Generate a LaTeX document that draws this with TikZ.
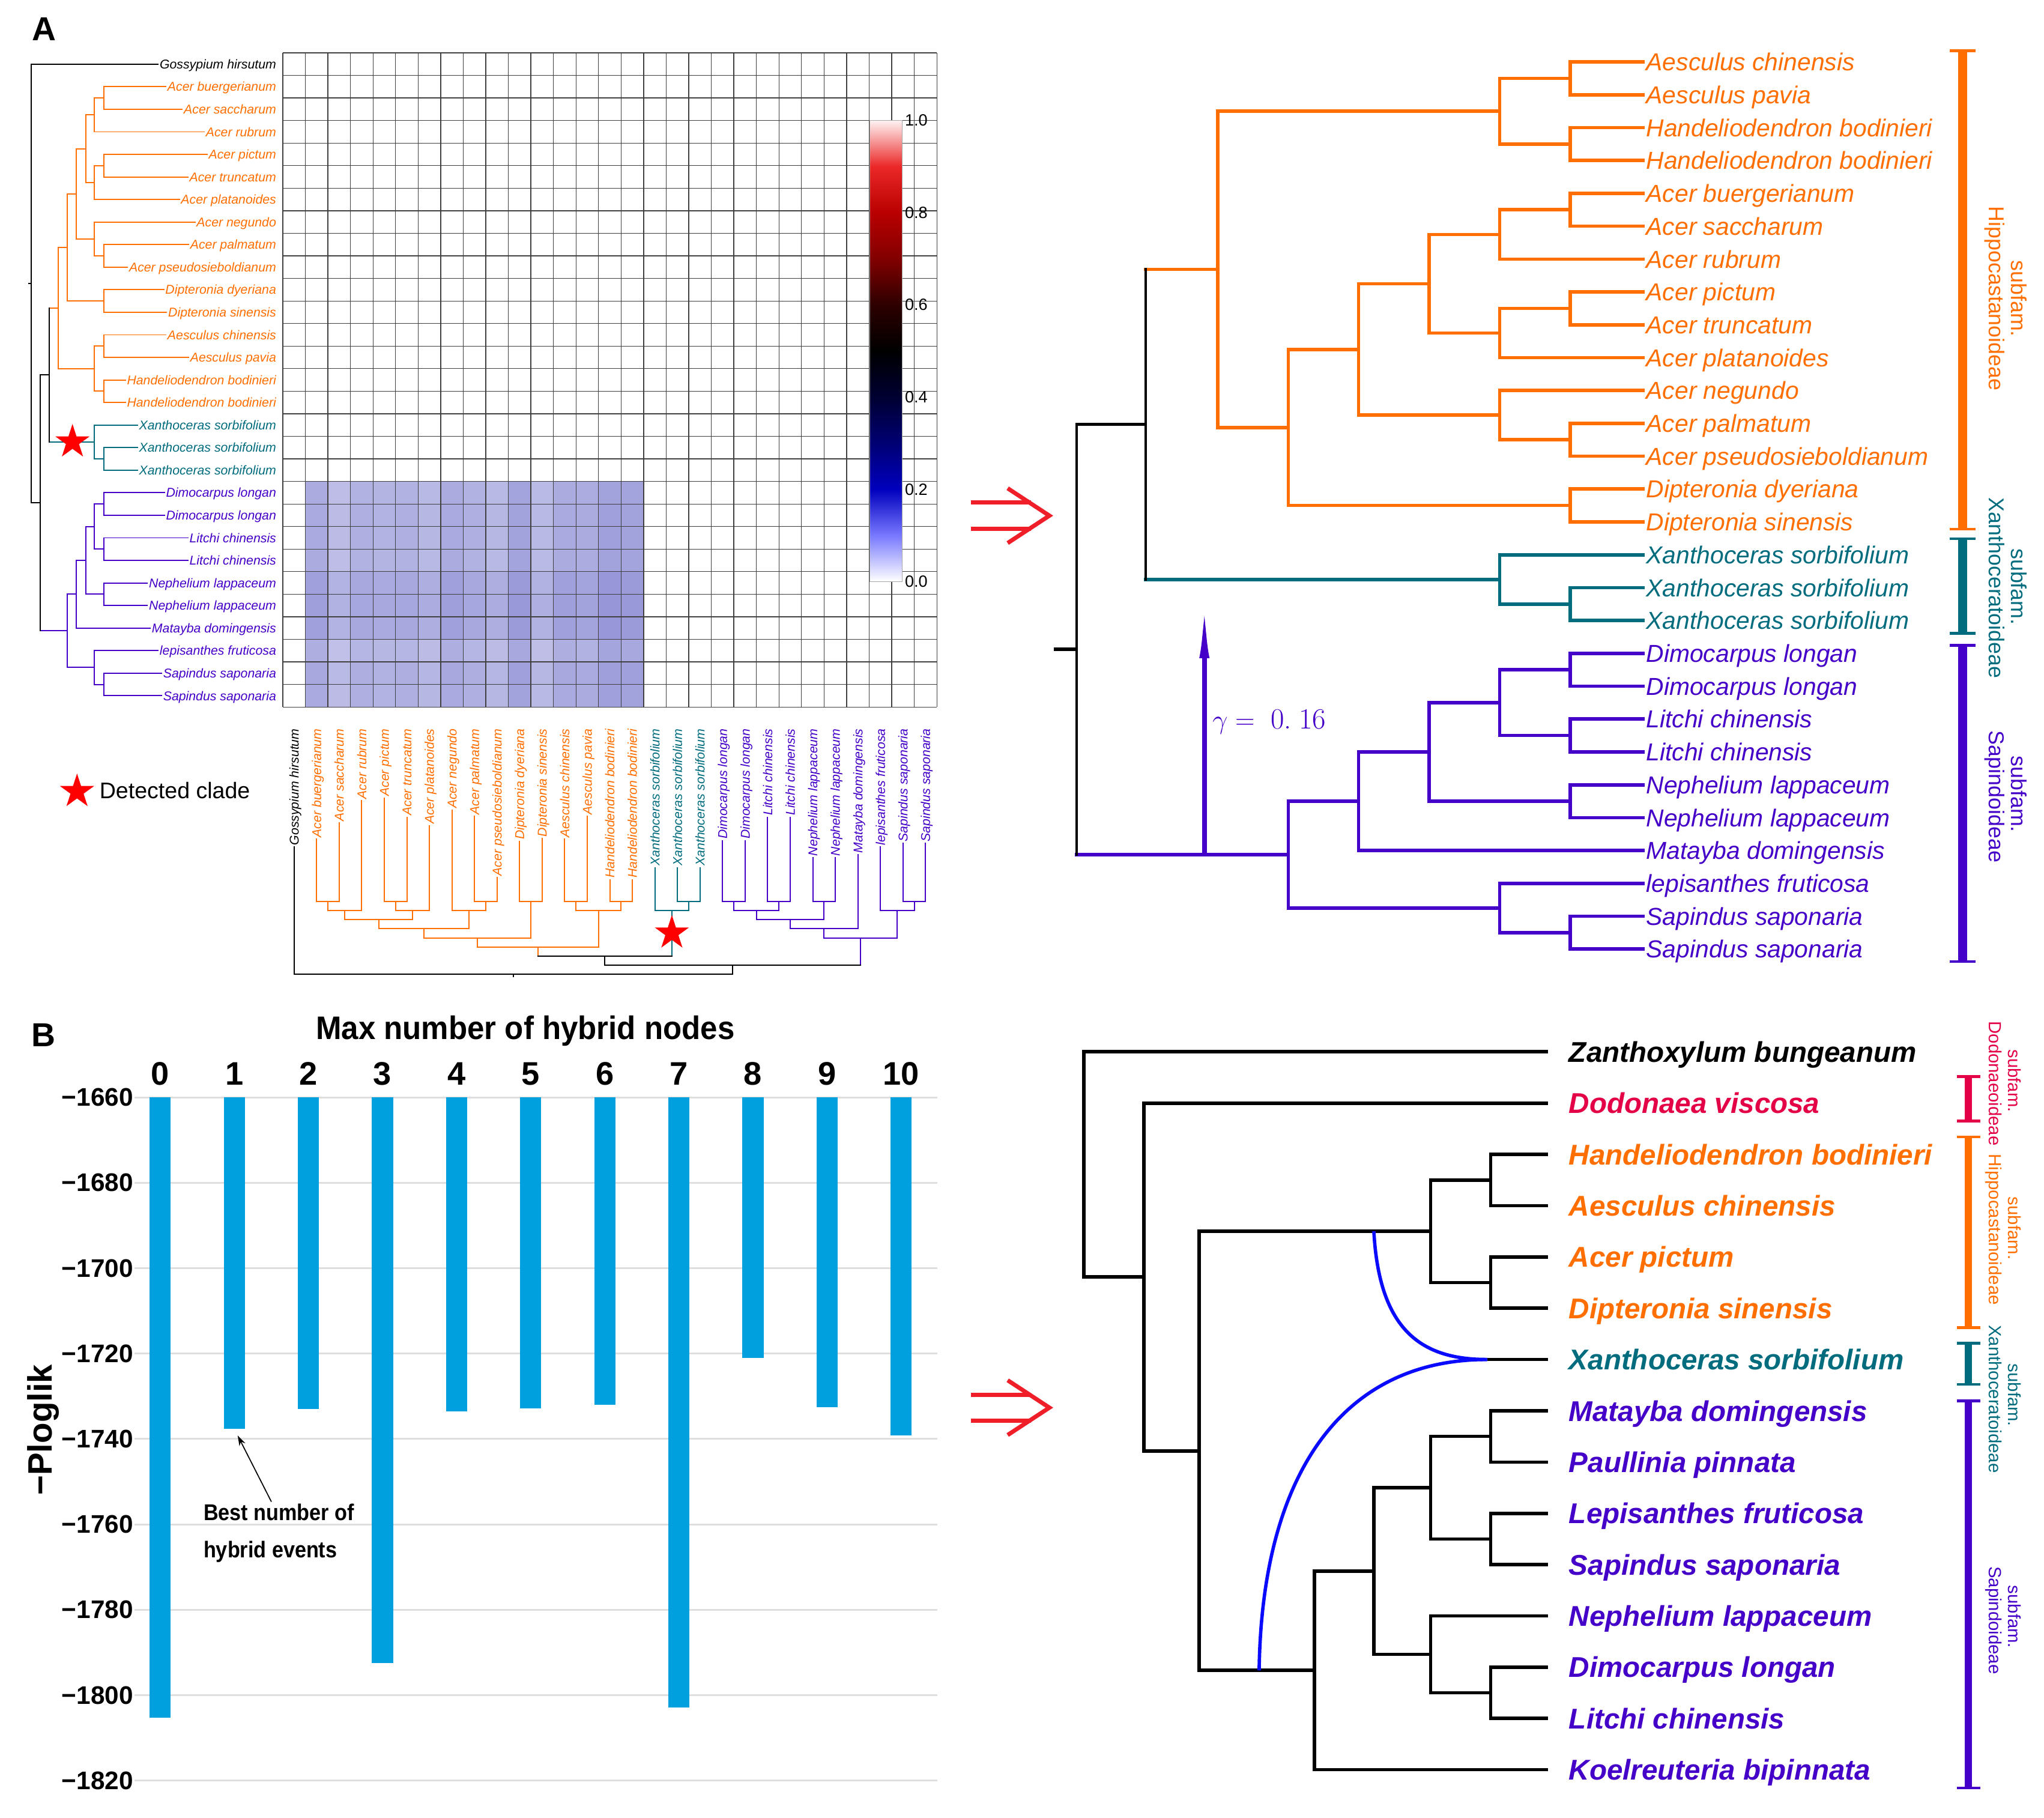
\documentclass[tikz,border=0pt]{standalone}
\usepackage{fontspec}
\usepackage{graphicx}
\newfontfamily\arial{Liberation Sans}
\usetikzlibrary{shapes.geometric,arrows.meta}
\definecolor{cor}{RGB}{255,110,0}
\definecolor{cte}{RGB}{0,108,125}
\definecolor{cpu}{RGB}{68,0,200}
\definecolor{ccr}{RGB}{228,0,70}
\definecolor{cbarblue}{RGB}{0,160,222}
\definecolor{chyb}{RGB}{10,10,255}
\definecolor{carr}{RGB}{240,30,40}
\definecolor{hmc}{RGB}{105,105,200}
\definecolor{cb0}{RGB}{255,255,255}
\definecolor{cb1}{RGB}{120,120,255}
\definecolor{cb2}{RGB}{0,0,190}
\definecolor{cb3}{RGB}{0,0,115}
\definecolor{cb4}{RGB}{0,0,50}
\definecolor{cb5}{RGB}{0,0,0}
\definecolor{cb6}{RGB}{45,0,0}
\definecolor{cb7}{RGB}{130,0,0}
\definecolor{cb8}{RGB}{185,0,0}
\definecolor{cb9}{RGB}{235,40,40}
\definecolor{cb10}{RGB}{255,242,242}
\newcommand\fsz[1]{\fontsize{#1}{#1}\selectfont}
\newcommand\rowA[1]{49.2+17.3*(#1)}
\newcommand\rowR[1]{47.5+25.2*(#1)}
\newcommand\rowB[1]{806.7+39.33*(#1)}
\newcommand\Lbr[6]{\draw[#1] (#4,{\rowA{#3}}) -- (#2,{\rowA{#3}}) -- (#2,{\rowA{#5}}) -- (#6,{\rowA{#5}});}
\newcommand\Rbr[6]{\draw[#1] (#4,{\rowR{#3}}) -- (#2,{\rowR{#3}}) -- (#2,{\rowR{#5}}) -- (#6,{\rowR{#5}});}
\newcommand\Bbr[5]{\draw (#3,{\rowB{#2}}) -- (#1,{\rowB{#2}}) -- (#1,{\rowB{#4}}) -- (#5,{\rowB{#4}});}
\newcommand\cladebar[6]{%
  \draw[#1, line width=#5] (#2,#3) -- (#2,#4);
  \draw[#1, line width=2pt] ({#2-#6},#3) -- ({#2+#6},#3);
  \draw[#1, line width=2pt] ({#2-#6},#4) -- ({#2+#6},#4);}
\newcommand\dblarrow[1]{%
  \draw[redarr] (745,{#1-10}) -- (791,{#1-10});
  \draw[redarr] (745,{#1+10}) -- (791,{#1+10});
  \draw[redarr, line join=miter] (773,{#1-21}) -- (805,#1) -- (773,{#1+21});}
\newcommand\LTree[1]{%
\begin{scope}[line width=0.9pt, line cap=rect]
\Lbr{cor}{79.5}{1}{79.5}{2}{79.5}
\Lbr{cor}{72.5}{1.5}{79.5}{3}{72.5}
\Lbr{cor}{79.5}{4}{79.5}{5}{79.5}
\Lbr{cor}{72.5}{4.5}{79.5}{6}{72.5}
\Lbr{cor}{65.7}{2.25}{72.5}{5.25}{72.5}
\Lbr{cor}{79.5}{8}{79.5}{9}{79.5}
\Lbr{cor}{72.5}{7}{72.5}{8.5}{79.5}
\Lbr{cor}{58.7}{3.75}{65.7}{7.75}{72.5}
\Lbr{cor}{79.5}{10}{79.5}{11}{79.5}
\Lbr{cor}{51.4}{5.75}{58.7}{10.5}{79.5}
\Lbr{cor}{79.5}{12}{79.5}{13}{79.5}
\Lbr{cor}{79.5}{14}{79.5}{15}{79.5}
\Lbr{cor}{72.5}{12.5}{79.5}{14.5}{79.5}
\Lbr{cor}{44.5}{8.125}{51.4}{13.5}{72.5}
\Lbr{cte}{79.5}{17}{79.5}{18}{79.5}
\Lbr{cte}{72.5}{16}{72.5}{17.5}{79.5}
\draw[cor] (37.6,{\rowA{10.8125}}) -- (44.5,{\rowA{10.8125}});
\draw[cte] (37.6,{\rowA{16.75}}) -- (72.5,{\rowA{16.75}});
\draw (37.6,{\rowA{10.8125}}) -- (37.6,{\rowA{16.75}});
\Lbr{cpu}{79.5}{19}{79.5}{20}{79.5}
\Lbr{cpu}{79.5}{21}{79.5}{22}{79.5}
\Lbr{cpu}{72.5}{19.5}{79.5}{21.5}{79.5}
\Lbr{cpu}{79.5}{23}{79.5}{24}{79.5}
\Lbr{cpu}{65.7}{20.5}{72.5}{23.5}{79.5}
\Lbr{cpu}{58.7}{22}{65.7}{25}{58.7}
\Lbr{cpu}{79.5}{27}{79.5}{28}{79.5}
\Lbr{cpu}{72.5}{26}{72.5}{27.5}{79.5}
\Lbr{cpu}{51.4}{23.5}{58.7}{26.75}{72.5}
\draw[cpu] (30.7,{\rowA{25.125}}) -- (51.4,{\rowA{25.125}});
\draw (30.7,{\rowA{13.78125}}) -- (37.6,{\rowA{13.78125}});
\draw (30.7,{\rowA{13.78125}}) -- (30.7,{\rowA{25.125}});
\draw (23.8,{\rowA{0}}) -- (23.8,{\rowA{19.453}}) -- (30.7,{\rowA{19.453}});
\draw (22.0,{\rowA{9.727}}) -- (23.8,{\rowA{9.727}});
\foreach \nm/\cc/\px [count=\k from 0] in {Gossypium hirsutum/black/23.8, Acer buergerianum/cor/79.5, Acer saccharum/cor/79.5, Acer rubrum/cor/72.5, Acer pictum/cor/79.5, Acer truncatum/cor/79.5, Acer platanoides/cor/72.5, Acer negundo/cor/72.5, Acer palmatum/cor/79.5, Acer pseudosieboldianum/cor/79.5, Dipteronia dyeriana/cor/79.5, Dipteronia sinensis/cor/79.5, Aesculus chinensis/cor/79.5, Aesculus pavia/cor/79.5, Handeliodendron bodinieri/cor/79.5, Handeliodendron bodinieri/cor/79.5, Xanthoceras sorbifolium/cte/72.5, Xanthoceras sorbifolium/cte/79.5, Xanthoceras sorbifolium/cte/79.5, Dimocarpus longan/cpu/79.5, Dimocarpus longan/cpu/79.5, Litchi chinensis/cpu/79.5, Litchi chinensis/cpu/79.5, Nephelium lappaceum/cpu/79.5, Nephelium lappaceum/cpu/79.5, Matayba domingensis/cpu/58.7, lepisanthes fruticosa/cpu/72.5, Sapindus saponaria/cpu/79.5, Sapindus saponaria/cpu/79.5}{
  \node[tlab, text=\cc, anchor=east] (#1l\k) at (212.7,{\rowA{\k}}) {\nm};
  \draw[\cc, line cap=butt] (\px,{\rowA{\k}}) -- (#1l\k.west);
}
\end{scope}}
\begin{document}
\begin{tikzpicture}[x=1pt,y=-1pt,
  tlab/.style={font=\arial\itshape\fsz{9.8}, inner sep=0.4pt, text height=7pt, text depth=0pt},
  ralab/.style={font=\arial\itshape\fsz{18.8}, inner sep=0pt, text height=13.5pt, text depth=0pt, anchor=west},
  rblab/.style={font=\arial\bfseries\itshape\fsz{21.9}, inner sep=0pt, text height=15.7pt, text depth=0pt, anchor=west},
  sfA/.style={font=\arial\fsz{16.5}, rotate=-90, inner sep=0pt, anchor=base},
  sfB/.style={font=\arial\fsz{13.5}, rotate=-90, inner sep=0pt, anchor=base},
  gline/.style={draw=black!13, line width=1.4pt},
  hgrid/.style={draw=black!75, line width=0.6pt},
  ylab/.style={font=\arial\bfseries\fsz{19.5}, inner sep=0pt, anchor=east},
  collab/.style={font=\arial\bfseries\fsz{25}, inner sep=0pt, anchor=base},
  panellab/.style={font=\arial\bfseries\fsz{25.5}, inner sep=0pt, anchor=base west},
  redstar/.style={star, star points=5, star point ratio=2.618, fill=red, draw=none, inner sep=0pt, minimum size=27.6pt},
  redarr/.style={draw=carr, line width=3.2pt},
]
\useasboundingbox (0,0) rectangle (1568,1394);
\fill[white] (0,0) rectangle (1568,1394);

% ---------------- Panel A: heat map ----------------
\foreach \rr [count=\ii from 0] in {0.3,0.35,0.35,0.3,0.6,0.65,0.6,0.2,0.4,0.35} {
  \foreach \cc [count=\j from 1] in {0.6,0.2,0.45,0.4,0.45,0.3,0.6,0.45,0.3,0.75,0.25,0.6,0.55,0.8,0.75} {
    \pgfmathtruncatemacro\pp{32+30*\cc+22*\rr}
    \fill[hmc!\pp!white] ({216.95+17.3*\j},{40.55+17.3*(19+\ii)}) rectangle +(17.3,17.3);
  }
}
\foreach \g in {0,...,29} {
  \draw[hgrid] ({216.95+17.3*\g},40.55) -- ++(0,501.7);
  \draw[hgrid] (216.95,{40.55+17.3*\g}) -- ++(501.7,0);
}
% colour bar
\foreach \i [evaluate=\i as \j using int(\i+1)] in {0,...,9} {
  \shade[bottom color=cb\i, top color=cb\j] (667.3,{446-35.36*\i}) rectangle (692.3,{446-35.36*\j});
}
\draw[black!35, line width=0.5pt] (667.3,92.4) rectangle (692.3,446);
\foreach \v/\t in {0/0.0,2/0.2,4/0.4,6/0.6,8/0.8,10/1.0} {
  \node[font=\arial\fsz{12.5}, inner sep=0pt, anchor=west] (cbl\v) at (694,{446-35.36*\v}) {\t};
}

% left and bottom trees
\LTree{L}
\begin{scope}[cm={0,1,-1,0,(176.4pt,-770.8pt)}, transform shape]
\LTree{B}
\end{scope}
\node[redstar] (starL) at (55.6,{\rowA{16.75}}) {};
\node[redstar] (starB) at (515.4,715.6) {};

\node[panellab] (labA) at (24.6,31) {A};
\node[redstar] (dstar) at (59.1,607.1) {};
\node[font=\arial\fsz{17.3}, inner sep=0pt, anchor=base west] (dtext) at (76.2,612.6) {Detected clade};

% ---------------- Panel A: right tree ----------------
\dblarrow{395.5}
\begin{scope}[line width=2.6pt, line cap=rect]
\Rbr{cor}{1204.4}{0}{1204.4}{1}{1204.4}
\Rbr{cor}{1204.4}{2}{1204.4}{3}{1204.4}
\Rbr{cor}{1150.4}{0.5}{1204.4}{2.5}{1204.4}
\Rbr{cor}{1204.4}{4}{1204.4}{5}{1204.4}
\Rbr{cor}{1150.4}{4.5}{1204.4}{6}{1150.4}
\Rbr{cor}{1204.4}{7}{1204.4}{8}{1204.4}
\Rbr{cor}{1150.4}{7.5}{1204.4}{9}{1150.4}
\Rbr{cor}{1096.3}{5.25}{1150.4}{8.25}{1150.4}
\Rbr{cor}{1204.4}{11}{1204.4}{12}{1204.4}
\Rbr{cor}{1150.4}{10}{1150.4}{11.5}{1204.4}
\Rbr{cor}{1042.2}{6.75}{1096.3}{10.75}{1150.4}
\Rbr{cor}{1204.4}{13}{1204.4}{14}{1204.4}
\Rbr{cor}{988.2}{8.75}{1042.2}{13.5}{1204.4}
\Rbr{cor}{934.1}{1.5}{1150.4}{11.125}{988.2}
\Rbr{cte}{1204.4}{16}{1204.4}{17}{1204.4}
\Rbr{cte}{1150.4}{15}{1150.4}{16.5}{1204.4}
\draw[cor] (879,{\rowR{6.3125}}) -- (934.1,{\rowR{6.3125}});
\draw[cte] (879,{\rowR{15.75}}) -- (1150.4,{\rowR{15.75}});
\Rbr{cpu}{1204.4}{18}{1204.4}{19}{1204.4}
\Rbr{cpu}{1204.4}{20}{1204.4}{21}{1204.4}
\Rbr{cpu}{1150.4}{18.5}{1204.4}{20.5}{1204.4}
\Rbr{cpu}{1204.4}{22}{1204.4}{23}{1204.4}
\Rbr{cpu}{1096.3}{19.5}{1150.4}{22.5}{1204.4}
\Rbr{cpu}{1042.2}{21}{1096.3}{24}{1042.2}
\Rbr{cpu}{1204.4}{26}{1204.4}{27}{1204.4}
\Rbr{cpu}{1150.4}{25}{1150.4}{26.5}{1204.4}
\Rbr{cpu}{988.2}{22.5}{1042.2}{25.75}{1150.4}
\draw[cpu] (826,{\rowR{24.125}}) -- (988.2,{\rowR{24.125}});
\draw[line width=2pt] (879,{\rowR{6.3125}}) -- (879,{\rowR{15.75}});
\draw[line width=2pt] (879,{\rowR{11.03125}}) -- (826,{\rowR{11.03125}}) -- (826,{\rowR{24.125}});
\draw[line width=3pt, line cap=butt] (808.5,498) -- (826,498);
\foreach \nm/\cc/\px [count=\k from 0] in {Aesculus chinensis/cor/1204.4, Aesculus pavia/cor/1204.4, Handeliodendron bodinieri/cor/1204.4, Handeliodendron bodinieri/cor/1204.4, Acer buergerianum/cor/1204.4, Acer saccharum/cor/1204.4, Acer rubrum/cor/1150.4, Acer pictum/cor/1204.4, Acer truncatum/cor/1204.4, Acer platanoides/cor/1150.4, Acer negundo/cor/1150.4, Acer palmatum/cor/1204.4, Acer pseudosieboldianum/cor/1204.4, Dipteronia dyeriana/cor/1204.4, Dipteronia sinensis/cor/1204.4, Xanthoceras sorbifolium/cte/1150.4, Xanthoceras sorbifolium/cte/1204.4, Xanthoceras sorbifolium/cte/1204.4, Dimocarpus longan/cpu/1204.4, Dimocarpus longan/cpu/1204.4, Litchi chinensis/cpu/1204.4, Litchi chinensis/cpu/1204.4, Nephelium lappaceum/cpu/1204.4, Nephelium lappaceum/cpu/1204.4, Matayba domingensis/cpu/1042.2, lepisanthes fruticosa/cpu/1150.4, Sapindus saponaria/cpu/1204.4, Sapindus saponaria/cpu/1204.4}{
  \node[ralab, text=\cc] (ra\k) at (1261.6,{\rowR{\k}}) {\nm};
  \draw[\cc, line cap=butt] (\px,{\rowR{\k}}) -- (ra\k.west);
}
\end{scope}
\coordinate (hybA0) at (923.9,{\rowR{24.125}});
\coordinate (hybA1) at (923.9,448.8);
\draw[cpu, line width=3.8pt, -{Latex[length=56pt,width=7.5pt]}] (hybA0) -- (hybA1);
\node[anchor=base west, text=cpu, inner sep=0pt, font=\fsz{22.5}] (gam) at (930,558.9) {$\gamma =$\hspace{0.55em}0.\hspace{0.25em}16};
\cladebar{cor}{1505.5}{39}{405.8}{7pt}{10}
\cladebar{cte}{1505.5}{413.1}{485.7}{7pt}{10}
\cladebar{cpu}{1505.5}{495}{737.5}{7pt}{10}
\node[sfA, text=cor] (sfA1) at (1543,229) {subfam.};
\node[sfA, text=cor] (sfA2) at (1525.9,229) {Hippocastanoideae};
\node[sfA, text=cte] (sfA3) at (1543,450) {subfam.};
\node[sfA, text=cte] (sfA4) at (1525.9,451) {Xanthoceratoideae};
\node[sfA, text=cpu] (sfA5) at (1543,609) {subfam.};
\node[sfA, text=cpu] (sfA6) at (1525.9,611) {Sapindoideae};

% ---------------- Panel B: bar chart ----------------
\node[panellab] (labB) at (24.2,802.7) {B};
\node[font=\arial\bfseries\fsz{25}, inner sep=0pt, anchor=base] (ctitle) at (403,797) {\scalebox{0.94}[1]{Max number of hybrid nodes}};
\foreach \lab [count=\k from 0] in {1660,1680,1700,1720,1740,1760,1780,1800,1820} {
  \draw[gline] (103.4,{841.6+65.51*\k}) -- (719,{841.6+65.51*\k});
  \node[ylab] (yl\k) at (102.4,{841.6+65.51*\k}) {−\lab};
}
\foreach \d [count=\k from 0] in {145.3,77.6,73,132.4,73.5,72.8,72,142.8,61,72.5,79.2} {
  \fill[cbarblue] ({122.9+56.84*\k-8.1},841.6) rectangle ({122.9+56.84*\k+8.1},{841.6+3.2756*\d});
  \node[collab] (xl\k) at ({122.9+56.84*\k},832) {\k};
}
\node[font=\arial\bfseries\fsz{26}, inner sep=0pt, anchor=base, rotate=90] (ytitle) at (40,1096.6) {−Ploglik};
\node[font=\arial\bfseries\fsz{17.5}, inner sep=0pt, anchor=base west] (ann1) at (156,1165.9) {\scalebox{0.9}[1]{Best number of}};
\node[font=\arial\bfseries\fsz{17.5}, inner sep=0pt, anchor=base west] (ann2) at (156,1194.8) {\scalebox{0.9}[1]{hybrid events}};
\coordinate (astart) at (208.2,1151.8);
\coordinate (aend) at (182.3,1100.9);
\draw[line width=0.8pt, -{Stealth[length=8pt,width=5pt]}] (astart) -- (aend);

% ---------------- Panel B: network ----------------
\dblarrow{1079.6}
\begin{scope}[line width=2.6pt, line cap=rect]
\Bbr{1143.5}{2}{1143.5}{3}{1143.5}
\Bbr{1143.5}{4}{1143.5}{5}{1143.5}
\Bbr{1097.4}{2.5}{1143.5}{4.5}{1143.5}
\Bbr{1143.5}{7}{1143.5}{8}{1143.5}
\Bbr{1143.5}{9}{1143.5}{10}{1143.5}
\Bbr{1097.4}{7.5}{1143.5}{9.5}{1143.5}
\Bbr{1143.5}{12}{1143.5}{13}{1143.5}
\Bbr{1097.4}{11}{1097.4}{12.5}{1143.5}
\Bbr{1053.9}{8.5}{1097.4}{11.75}{1097.4}
\Bbr{1008.3}{10.125}{1053.9}{14}{1008.3}
\Bbr{919.8}{3.5}{1097.4}{12.0625}{1008.3}
\Bbr{877.4}{1}{877.4}{7.78125}{919.8}
\Bbr{831.3}{0}{831.3}{4.390625}{877.4}
\foreach \nm/\cc/\px [count=\k from 0] in {Zanthoxylum bungeanum/black/831.3, Dodonaea viscosa/ccr/877.4, Handeliodendron bodinieri/cor/1143.5, Aesculus chinensis/cor/1143.5, Acer pictum/cor/1143.5, Dipteronia sinensis/cor/1143.5, Xanthoceras sorbifolium/cte/1140.8, Matayba domingensis/cpu/1143.5, Paullinia pinnata/cpu/1143.5, Lepisanthes fruticosa/cpu/1143.5, Sapindus saponaria/cpu/1143.5, Nephelium lappaceum/cpu/1097.4, Dimocarpus longan/cpu/1143.5, Litchi chinensis/cpu/1143.5, Koelreuteria bipinnata/cpu/1008.3}{
  \node[rblab, text=\cc] (bl\k) at (1202.3,{\rowB{\k}}) {\nm};
  \draw[line cap=butt] (\px,{\rowB{\k}}) -- ([xshift=-15pt]bl\k.west);
}
\end{scope}
\coordinate (hyb) at (1140.8,{\rowB{6}});
\coordinate (hs1) at (1053.9,{\rowB{3.5}});
\coordinate (hs2) at (965.9,{\rowB{12.0625}});
\draw[chyb, line width=2.6pt] (hs1) .. controls (1058,1020) and (1090,{\rowB{6}}) .. (hyb);
\draw[chyb, line width=2.6pt] (hs2) .. controls (968,1130) and (1030,{\rowB{6}}) .. (hyb);
\cladebar{ccr}{1510}{825.6}{859.7}{5.5pt}{9}
\cladebar{cor}{1510}{872.1}{1018.2}{5.5pt}{9}
\cladebar{cte}{1510}{1030.2}{1061.6}{5.5pt}{9}
\cladebar{cpu}{1510}{1074.4}{1371.4}{5.5pt}{9}
\node[sfB, text=ccr] (sfB1) at (1540.8,829) {subfam.};
\node[sfB, text=ccr] (sfB2) at (1526,831) {Dodonaeoideae};
\node[sfB, text=cor] (sfB3) at (1540.8,942) {subfam.};
\node[sfB, text=cor] (sfB4) at (1526,943) {Hippocastanoideae};
\node[sfB, text=cte] (sfB5) at (1540.8,1070) {subfam.};
\node[sfB, text=cte] (sfB6) at (1526,1073) {Xanthoceratoideae};
\node[sfB, text=cpu] (sfB7) at (1540.8,1240) {subfam.};
\node[sfB, text=cpu] (sfB8) at (1526,1242.7) {Sapindoideae};
\end{tikzpicture}
\end{document}
